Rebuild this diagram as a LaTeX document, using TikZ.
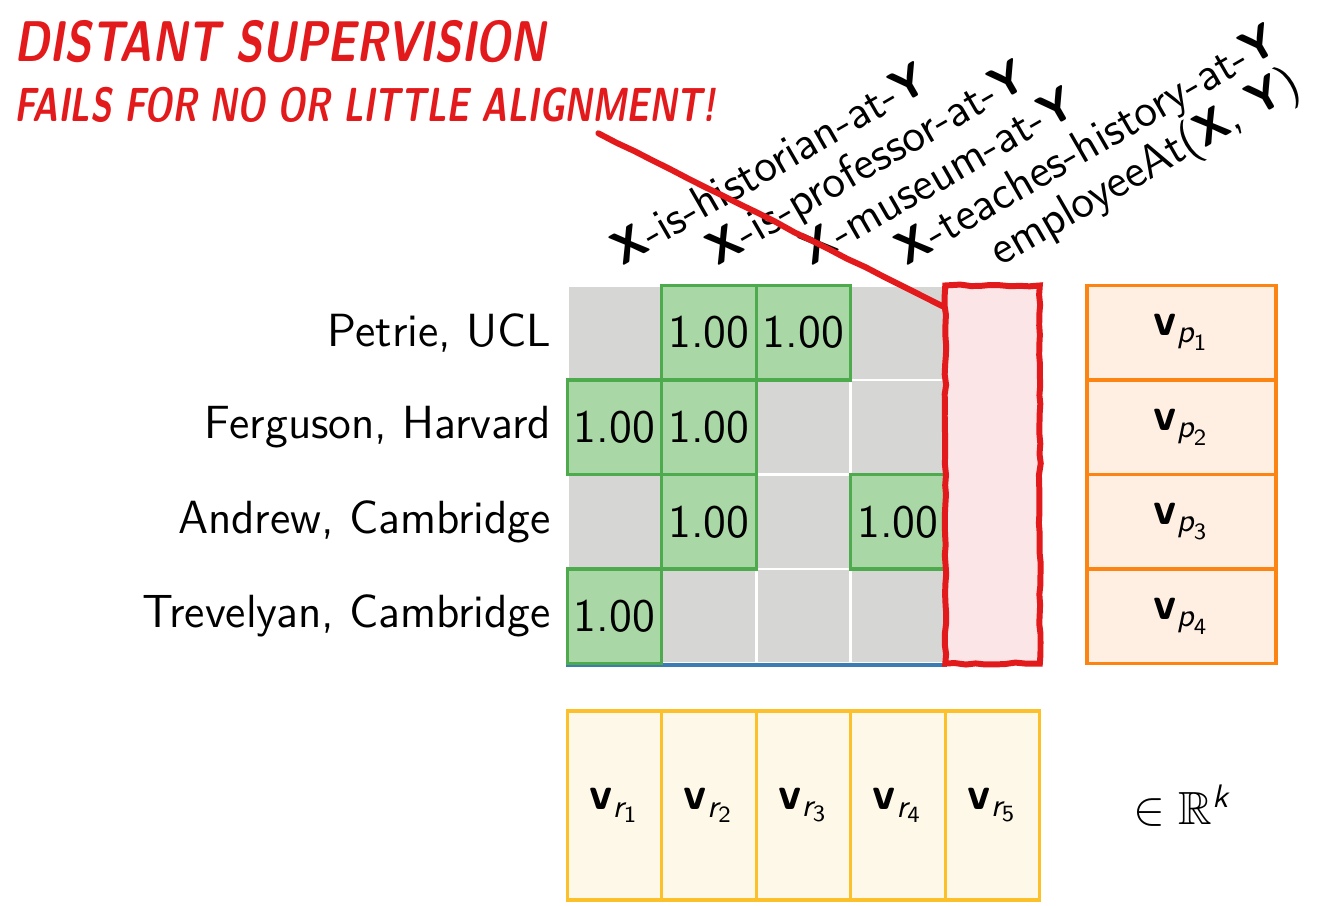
\documentclass[tikz,border=0pt]{standalone}
\usepackage{amsmath, amssymb}
\usepackage{fontspec}
\usepackage{tikz}
\usetikzlibrary{positioning, calc, decorations.pathmorphing}

\definecolor{cellgray}{HTML}{D6D6D5}
\definecolor{hitfill}{HTML}{A9D7A5}
\definecolor{hitdraw}{HTML}{4DAA4D}
\definecolor{supred}{HTML}{E31A1C}
\definecolor{suppink}{HTML}{FBE5E6}
\definecolor{pfill}{HTML}{FEEFE2}
\definecolor{pdraw}{HTML}{FB8412}
\definecolor{rfill}{HTML}{FEF8E8}
\definecolor{rdraw}{HTML}{FCC02A}
\definecolor{baseblue}{HTML}{3A7DB5}

\newcommand{\vecp}[1]{\textbf{v}$_{\text{\itshape p}_{\text{#1}}}$}
\newcommand{\vecr}[1]{\textbf{v}$_{\text{\itshape r}_{\text{#1}}}$}

\begin{document}
\begin{tikzpicture}[font=\sffamily\fontsize{14}{17}\selectfont,
    cell/.style={draw=white, thick, fill=cellgray, minimum size=1cm, inner sep=0pt},
    hit/.style={draw=hitdraw, line width=1pt, fill=hitfill, minimum size=1cm, inner sep=0pt},
    pvec/.style={draw=pdraw, line width=1pt, fill=pfill, minimum width=2cm, minimum height=1cm},
    rvec/.style={draw=rdraw, line width=1pt, fill=rfill, minimum width=1cm, minimum height=2cm},
    collabel/.style={rotate=30, anchor=base west, inner sep=0pt},
    rough/.style={decorate, decoration={random steps, segment length=3pt, amplitude=0.3pt}},
    scribble/.style={text=supred, transform shape, inner sep=0pt}]
    \useasboundingbox (-6,-2.56) rectangle (8.07,7.02);

    % Matrix
    \foreach \r in {1,...,4}
        \foreach \c in {1,...,4}
            \node[cell] (m-\r-\c) at (\c-0.5, 4.5-\r) {};
    \draw[baseblue, line width=1.2pt] (m-4-1.south west) -- (m-4-4.south east);
    \foreach \r/\c in {1/2, 1/3, 2/1, 2/2, 3/2, 3/4, 4/1}
        \node[hit] (h-\r-\c) at (m-\r-\c) {1.00};

    % Unseen relation
    \node[draw=supred, line width=1.8pt, fill=suppink, rough,
          minimum width=1cm, minimum height=4cm, inner sep=0pt] (target) at (4.5,2) {};

    % Entity pairs
    \foreach \r/\t in {1/{Petrie, UCL}, 2/{Ferguson, Harvard},
                       3/{Andrew, Cambridge}, 4/{Trevelyan, Cambridge}}
        \node[anchor=east, inner sep=1.5mm] (row-\r) at (m-\r-1.west) {\t};

    % Relations
    \foreach \c/\t in {1/{\textbf{X}-is-historian-at-\textbf{Y}},
                       2/{\textbf{X}-is-professor-at-\textbf{Y}},
                       3/{\textbf{X}-museum-at-\textbf{Y}},
                       4/{\textbf{X}-teaches-history-at-\textbf{Y}},
                       5/{employeeAt(\textbf{X}, \textbf{Y})}}
        \node[collabel] (col-\c) at (\c-0.42, 4.2) {\t};

    % Embeddings
    \foreach \r in {1,...,4}
        \node[pvec] (p-\r) at (6.5, 4.5-\r) {\vecp{\r}};
    \foreach \c in {1,...,5}
        \node[rvec] (r-\c) at (\c-0.5, -1.5) {\vecr{\c}};
    \node (reals) at (p-4 |- r-5) {$\in \mathbb{R}^{\text{\itshape k}}$};

    % Callout
    \node[scribble, xscale=0.77, font=\sffamily\bfseries\itshape\LARGE, anchor=west] (head) at (-5.85, 6.58) {DISTANT SUPERVISION};
    \node[scribble, xscale=0.73, font=\sffamily\bfseries\itshape\Large, anchor=north west] (sub) at ($(head.south west)+(0,-0.25)$) {FAILS FOR NO OR LITTLE ALIGNMENT!};
    \coordinate (pointer) at (0.33, 5.61);
    \draw[supred, line width=1.8pt, line cap=round, decorate,
          decoration={random steps, segment length=6pt, amplitude=0.15pt}]
        (pointer) -- ($(target.north west)+(0,-0.25)$);
\end{tikzpicture}
\end{document}
